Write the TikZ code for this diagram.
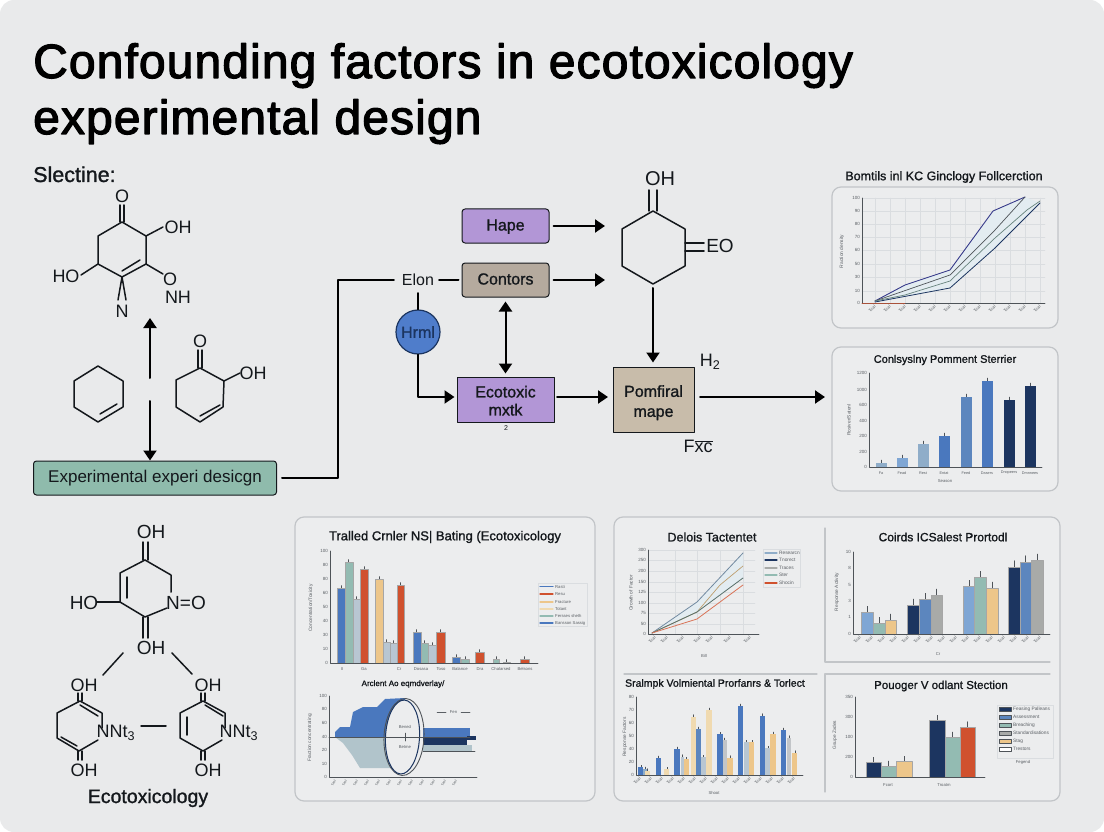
\documentclass[tikz,border=0pt]{standalone}
\usepackage{fontspec}
\usetikzlibrary{arrows.meta}
\setmainfont{Liberation Sans}
\newfontfamily\medfont[FakeBold=2.5,LetterSpace=2.3]{Liberation Sans}
\newfontfamily\semifont[FakeBold=1.2]{Liberation Sans}

\definecolor{pagegrey}{HTML}{E9EAEB}
\definecolor{panelfill}{HTML}{ECEDEE}
\definecolor{panelline}{HTML}{C2C5C8}
\definecolor{inkdark}{HTML}{14181C}
\definecolor{axisgrey}{HTML}{4E5358}
\definecolor{gridgrey}{HTML}{DADDE0}
\definecolor{tickgrey}{HTML}{5A5F64}
\definecolor{violetbox}{HTML}{B296D6}
\definecolor{stonebox}{HTML}{B5AA9E}
\definecolor{sandbox}{HTML}{C8BCAA}
\definecolor{mintbox}{HTML}{8FBBAC}
\definecolor{hrmlblue}{HTML}{4F7DCB}
\definecolor{navybar}{HTML}{1C3560}
\definecolor{steelbar}{HTML}{4A78BE}
\definecolor{midbar}{HTML}{5C86BE}
\definecolor{skybar}{HTML}{7FA6D4}
\definecolor{dustbar}{HTML}{8FADC9}
\definecolor{tealbar}{HTML}{93BBB2}
\definecolor{greybar}{HTML}{B8C6D2}
\definecolor{ashbar}{HTML}{A8AAA8}
\definecolor{redbar}{HTML}{D0512E}
\definecolor{tanbar}{HTML}{EDC68A}
\definecolor{creambar}{HTML}{F0DAB0}
\definecolor{paleblue}{HTML}{E3ECF1}

\tikzset{
    bond/.style={line width=1.5pt, line join=round, line cap=round, color=inkdark},
    atom/.style={font=\fontsize{18}{20}\selectfont, text=inkdark, inner sep=0pt},
    flow/.style={line width=2pt, color=black, -{Triangle[length=10pt,width=13pt]}},
    bothflow/.style={line width=2pt, color=black, {Triangle[length=10pt,width=13pt]}-{Triangle[length=10pt,width=13pt]}},
    plainflow/.style={line width=2pt, color=black},
    flowbox/.style={draw=inkdark, line width=1pt, minimum width=87pt, minimum height=34pt, rounded corners=3pt, inner sep=0pt, font=\semifont\fontsize{16}{18}\selectfont, text=inkdark, align=center},
    oneline/.style={text height=12pt, text depth=3pt},
    panel/.style={draw=panelline, line width=1.2pt, rounded corners=9pt, fill=panelfill},
    rule/.style={draw=panelline, line width=1.1pt},
    charttitle/.style={font=\semifont\fontsize{12.5}{14}\selectfont, text=inkdark, inner sep=0pt},
    axis/.style={line width=0.9pt, color=axisgrey},
    gridline/.style={line width=0.4pt, color=gridgrey},
    xtick/.style={font=\fontsize{4.2}{5}\selectfont, text=tickgrey, rotate=45, anchor=east, inner sep=0pt},
    xflat/.style={font=\fontsize{4.2}{5}\selectfont, text=tickgrey, inner sep=0pt},
    ytick/.style={font=\fontsize{4.5}{5}\selectfont, text=tickgrey, anchor=east, inner sep=0pt},
    ytitle/.style={font=\fontsize{4.8}{5}\selectfont, text=tickgrey, rotate=90, inner sep=0pt},
    legendtext/.style={font=\fontsize{4.8}{5}\selectfont, text=tickgrey, anchor=west, inner sep=0pt},
    legendbox/.style={draw=gridgrey, line width=0.5pt, fill=panelfill},
    barline/.style={draw=black!35, line width=0.3pt},
    errbar/.style={line width=0.5pt, color=axisgrey},
}

\begin{document}
\begin{tikzpicture}[x=1pt, y=-1pt, line cap=round, line join=round]
    \useasboundingbox (0,0) rectangle (1104,832);
    \fill[white] (0,0) rectangle (1104,832);
    \fill[pagegrey, rounded corners=14pt] (0,0) rectangle (1104,832);

    \draw (33,78) node[anchor=base west, inner sep=0pt, font=\medfont\fontsize{48}{50}\selectfont, text=black] (titleone) {Confounding factors in ecotoxicology};
    \draw (33,134) node[anchor=base west, inner sep=0pt, font=\medfont\fontsize{48}{50}\selectfont, text=black] (titletwo) {experimental design};
    \draw (33,182) node[anchor=base west, inner sep=0pt, font=\semifont\fontsize{21.5}{23}\selectfont, text=inkdark] (slectine) {Slectine:};

    % upper molecule
    \draw[bond] (122,222) -- (146,236) -- (146,264) -- (122,277) -- (98,264) -- (98,236) -- cycle;
    \draw[bond] (120,205) -- (120,222);
    \draw[bond] (124,205) -- (124,222);
    \draw[bond] (140,260) -- (122,271);
    \draw[bond] (146,236) -- (163,227);
    \draw[bond] (98,264) -- (81,275);
    \draw[bond] (146,264) -- (163,274);
    \draw[bond] (122,277) -- (118,300);
    \draw[bond] (122,277) -- (126,300);
    \draw (122,196) node[atom] (atomoa) {O};
    \draw (178,227) node[atom] (atomob) {OH};
    \draw (66,276) node[atom] (atomoc) {HO};
    \draw (170,279) node[atom] (atomod) {O};
    \draw (178,297) node[atom] (atomne) {NH};
    \draw (122,311) node[atom] (atomnf) {N};

    % plain ring and ketone ring
    \draw[bond] (98,366) -- (123,381) -- (123,407) -- (98,422) -- (74,407) -- (74,381) -- cycle;
    \draw[bond] (100,414) -- (117,404);
    \draw[bond] (200,368) -- (224,381) -- (223,407) -- (200,422) -- (176,407) -- (176,380) -- cycle;
    \draw[bond] (198,350) -- (198,368);
    \draw[bond] (202,350) -- (202,368);
    \draw[bond] (200,416) -- (220,405);
    \draw[bond] (224,381) -- (240,373);
    \draw (200,341) node[atom] (atomka) {O};
    \draw (253,373) node[atom] (atomkb) {OH};

    \draw (155,478) node[flowbox, fill=mintbox, minimum width=243pt, font=\fontsize{17}{19}\selectfont] (expbox) {Experimental experi desicgn};
    \coordinate (gapup) at (150,378);
    \coordinate (tipup) at (150,318);
    \coordinate (gapdown) at (150,401);
    \draw[flow] (gapup) -- (tipup);
    \draw[flow] (gapdown) -- (expbox.north -| gapdown);

    % flow chart
    \draw (505.5,226) node[flowbox, oneline, fill=violetbox] (hape) {Hape};
    \draw (505.5,280) node[flowbox, oneline, fill=stonebox] (contors) {Contors};
    \draw (418,280) node[inner sep=0pt, minimum width=40pt, minimum height=16pt, font=\fontsize{16}{18}\selectfont, text=inkdark] (elon) {Elon};
    \draw (418,332) node[circle, draw=navybar, line width=1.2pt, fill=hrmlblue, minimum size=44pt, inner sep=0pt, font=\semifont\fontsize{16}{18}\selectfont, text=navybar] (hrml) {Hrml};
    \draw (505.5,399.5) node[flowbox, fill=violetbox, minimum width=97pt, minimum height=45pt, rounded corners=0pt] (ecotoxic) {\rule{0pt}{14pt}Ecotoxic\\[0pt]mxtk};
    \draw (506,428) node[inner sep=0pt, font=\fontsize{7}{8}\selectfont, text=inkdark] (ecomark) {2};
    \draw (653.5,399.5) node[flowbox, fill=sandbox, minimum width=81pt, minimum height=65pt, rounded corners=0pt] (pomfiral) {\rule{0pt}{18pt}Pomfiral\\[2pt]mape};
    \draw (710,362) node[atom] (htwo) {H\textsubscript{2}};
    \draw (698,446) node[atom] (fxc) {F$\overline{\mbox{xc}}$};

    \coordinate (ringtop) at (605,226);
    \coordinate (ringmid) at (605,280);
    \coordinate (ringlow) at (653,284);
    \coordinate (outtip) at (825,397);
    \coordinate (outstart) at (700,397);
    \coordinate (upbend) at (338,478);
    \coordinate (upcorner) at (338,280);
    \coordinate (hrmlbend) at (418,397);
    \coordinate (ecostart) at (557,397);
    \coordinate (ecoin) at (608,397);

    \draw[flow, shorten <=4pt] (hape.east) -- (ringtop);
    \draw[flow, shorten <=4pt] (contors.east) -- (ringmid);
    \draw[plainflow, shorten <=5pt, shorten >=4pt] (expbox.east) -- (upbend) -- (upcorner) -- (elon.west);
    \draw[plainflow, shorten <=1pt, shorten >=3pt] (elon.east) -- (contors.west);
    \draw[plainflow, shorten <=5pt] (elon.south) -- (hrml.north);
    \draw[flow, shorten >=2pt] (hrml.south) -- (hrmlbend) -- (ecotoxic.west |- hrmlbend);
    \draw[bothflow, shorten <=4pt, shorten >=3pt] (contors.south) -- (contors.south |- ecotoxic.north);
    \draw[flow] (ecostart) -- (ecoin);
    \draw[flow, shorten <=4pt, shorten >=4pt] (ringlow) -- (ringlow |- pomfiral.north);
    \draw[flow] (outstart) -- (outtip);

    \draw[bond] (653,211) -- (685,229) -- (685,266) -- (653,284) -- (622,266) -- (622,229) -- cycle;
    \draw[bond] (649,190) -- (649,211);
    \draw[bond] (657,190) -- (657,211);
    \draw[bond] (685,243) -- (704,243);
    \draw[bond] (685,251) -- (704,251);
    \draw (660,179) node[atom, font=\fontsize{20}{22}\selectfont] (atomqa) {OH};
    \draw (720,246) node[atom, font=\fontsize{19}{21}\selectfont] (atomqb) {EO};

    % lower molecules
    \draw[bond] (145,560) -- (171,575) -- (171,592);
    \draw[bond] (167,608) -- (145,617) -- (120,602) -- (120,573) -- (145,560);
    \draw[bond] (127,577) -- (127,598);
    \draw[bond] (143,542) -- (143,560);
    \draw[bond] (148,542) -- (148,560);
    \draw[bond] (143,617) -- (143,638);
    \draw[bond] (148,617) -- (148,638);
    \draw[bond, line width=2.2pt] (97,602) -- (120,602);
    \draw (151,532) node[atom, font=\fontsize{19}{21}\selectfont] (atomra) {OH};
    \draw (84,603) node[atom, font=\fontsize{19}{21}\selectfont] (atomrb) {HO};
    \draw (186,603) node[atom, font=\fontsize{19}{21}\selectfont] (atomrc) {N=O};
    \draw (151,648) node[atom, font=\fontsize{19}{21}\selectfont] (atomrd) {OH};

    \draw[bond] (123,653) -- (103,675);
    \draw[bond] (172,653) -- (192,674);
    \draw[bond] (141,726) -- (166,726);

    \draw[bond] (98,740) -- (79,751) -- (57,738) -- (57,713) -- (80,701) -- (102,713) -- (102,728);
    \draw[bond] (80,705) -- (98,716);
    \draw[bond] (61,737) -- (77,746);
    \draw[bond] (78,693) -- (78,701);
    \draw[bond] (82,693) -- (82,701);
    \draw[bond] (78,751) -- (78,760);
    \draw[bond] (82,751) -- (82,760);
    \draw (84,685) node[atom] (atomsa) {OH};
    \draw (116,733) node[atom] (atomsb) {NNt\textsubscript{3}};
    \draw (84,770) node[atom] (atomsc) {OH};

    \draw[bond] (222,740) -- (203,751) -- (180,738) -- (180,713) -- (203,701) -- (225,713) -- (225,728);
    \draw[bond] (205,705) -- (223,716);
    \draw[bond] (187,717) -- (187,735);
    \draw[bond] (201,693) -- (201,701);
    \draw[bond] (205,693) -- (205,701);
    \draw[bond] (201,751) -- (201,760);
    \draw[bond] (205,751) -- (205,760);
    \draw (208,685) node[atom] (atomta) {OH};
    \draw (239,733) node[atom] (atomtb) {NNt\textsubscript{3}};
    \draw (208,770) node[atom] (atomtc) {OH};
    \draw (148,798) node[inner sep=0pt, font=\semifont\fontsize{19.5}{21}\selectfont, text=inkdark] (ecolabel) {Ecotoxicology};

    % top right panels
    \draw (944,177) node[charttitle] (titlea) {Bomtils inl KC Ginclogy Follcerction};
    \draw[panel] (832,187) rectangle (1058,328);
    \foreach \xg in {875,890,...,1040} \draw[gridline] (\xg,198) -- (\xg,303);
    \foreach \yg in {198,211,224,237,250,264,277,291} \draw[gridline] (862,\yg) -- (1045,\yg);
    \fill[paleblue] (875,301) -- (905,285) -- (950,270) -- (993,211) -- (1025,197) -- (1040,203) -- (995,248) -- (950,288) -- (875,302) -- cycle;
    \draw[line width=0.9pt, color=axisgrey!70!blue] (875,301) -- (905,285) -- (950,270) -- (993,211) -- (1025,197);
    \draw[line width=0.7pt, color=axisgrey] (875,301) -- (950,275) -- (995,230) -- (1025,197);
    \draw[line width=0.7pt, color=tealbar!70!black] (875,301) -- (905,295) -- (950,281) -- (995,238) -- (1027,210) -- (1040,201);
    \draw[line width=0.8pt, color=navybar] (875,302) -- (950,288) -- (995,248) -- (1040,203);
    \draw[axis] (862,198) -- (862,303) -- (1045,303);
    \draw[line width=0.9pt, color=redbar!70!axisgrey] (862,303) -- (905,303);
    \foreach \yt/\lab in {198/100,211/90,224/80,237/70,250/60,264/50,277/30,291/10,303/0} \draw (860,\yt) node[ytick] (yta\yt) {\lab};
    \foreach \xt in {875,890,...,1040} \draw (\xt,306) node[xtick] (xta\xt) {Trial};
    \draw (842,252) node[ytitle] (ylaba) {Fraction density};

    \draw[panel] (832,347) rectangle (1058,491);
    \draw (945,360) node[charttitle, font=\semifont\fontsize{11}{13}\selectfont] (titleb) {Conlsyslny Pomment Sterrier};
    \foreach \xa/\ytop/\barcol in {881/463/dustbar,902/458/skybar,923/444/dustbar,944/436/steelbar,966/397/midbar,987/381/steelbar,1009/400/navybar,1030/386/navybar} {
        \draw[errbar] (\xa,\ytop) -- ++(0,-3);
        \fill[\barcol] (\xa-5.5,467) rectangle (\xa+5.5,\ytop);
    }
    \draw[axis] (869,373) -- (869,467) -- (1042,467);
    \foreach \yt/\lab in {373/1200,390/1000,405/600,421/400,436/200,452/200,467/0} \draw (867,\yt) node[ytick] (ytb\yt) {\lab};
    \foreach \xa/\lab in {881/Fa,902/Fead,923/Rest,944/Entat,966/Feed,987/Dasers,1009/Dnopeers,1030/Dmnnees} \draw (\xa,473) node[xflat, font=\fontsize{3.8}{5}\selectfont] (xtb\xa) {\lab};
    \draw (945,481) node[xflat] (xlabb) {Season};
    \draw (849,420) node[ytitle] (ylabb) {Rosiver/Satenl};

    % middle panel
    \draw[panel] (295,517) rectangle (595,801);
    \draw (445,537) node[charttitle, font=\semifont\fontsize{13}{15}\selectfont] (titlec) {Tralled Crnler NS| Bating (Ecotoxicology};
    \foreach \xa/\xb/\ytop/\barcol in {337.3/344.7/588/steelbar,344.7/352.7/562/tealbar,352.7/360/599/greybar,360/368/569/redbar,375.3/383.3/579/tanbar,383.3/390/642/greybar,390/396.7/643/greybar,396.7/404.3/585/redbar,412.7/420.7/632/steelbar,420.7/428.3/643/tealbar,428.3/435.7/645/greybar,436/444.7/632/redbar,452.3/460/657/steelbar,460.7/469.3/659/tealbar,475.3/483.7/652/redbar,493.3/499.3/659/tealbar,503.3/510/662/tanbar,520/529.3/659/redbar} {
        \draw[errbar] ({(\xa+\xb)/2},\ytop) -- ++(0,-2.5);
        \draw[barline, fill=\barcol] (\xa,663) rectangle (\xb,\ytop);
    }
    \draw[axis] (330,551) -- (330,663) -- (538,663);
    \foreach \yt/\lab in {551/100,565/80,579/80,593/60,607/50,621/40,635/30,649/10,663/0} \draw (328,\yt) node[ytick] (ytc\yt) {\lab};
    \foreach \xa/\lab in {342/II,364/Ga,399/Cr,421/Dosasa,441/Toso,460/Balance,480/Dra,501/Chalarsed,525/Belsons} \draw (\xa,669) node[xflat] (xtc\xa) {\lab};
    \draw (311,608) node[ytitle] (ylabc) {Concentration/Toxicity};
    \draw[legendbox] (538,583) rectangle (587,626);
    \foreach \yt/\barcol/\lab in {586.5/steelbar/Rasti,594/redbar/Resu,602/tanbar/Fracture,609/creambar/Totant,616/tealbar/Fersses sheth,623/steelbar/Bansson Sassig} {
        \draw[line width=1.2pt, color=\barcol] (540,\yt) -- (553,\yt);
        \draw (555,\yt) node[legendtext, font=\fontsize{4.2}{5}\selectfont] (legc\yt) {\lab};
    }

    \draw (403,684) node[charttitle, font=\semifont\fontsize{8}{10}\selectfont] (titled) {Arclent Ao eqmdverlay/};
    \fill[steelbar] (335,737) -- (335,732) -- (340,727) -- (350,727) -- (353,712) -- (363,707) -- (377,707) -- (385,699) -- (405,698) -- (405,737) -- cycle;
    \fill[greybar!80!tealbar] (335,737) -- (343,743) -- (352,755) -- (360,768) -- (405,768) -- (405,737) -- cycle;
    \fill[steelbar] (423,728) rectangle (470,737);
    \fill[navybar] (423,737) rectangle (467,745);
    \fill[navybar] (467,736) rectangle (476,740);
    \fill[greybar!80!tealbar] (423,745) rectangle (472,751);
    \draw[line width=0.7pt, color=axisgrey] (423,751) -- (475,751);
    \draw[rotate around={-3:(404,737)}, line width=0.9pt, color=axisgrey] (404,737) ellipse (20 and 38.5);
    \draw[rotate around={-3:(402.5,737)}, line width=1pt, color=navybar, fill=panelfill] (402.5,737) ellipse (17 and 37);
    \draw[axis] (329,696) -- (329,777) -- (477,777);
    \draw[line width=0.7pt, color=axisgrey] (329,737) -- (470,737);
    \draw[line width=0.5pt, color=axisgrey] (405,733) -- (405,741);
    \draw (405,727) node[xflat] (benda) {Bened};
    \draw (405,747) node[xflat] (bendb) {Betme};
    \draw[line width=0.5pt, color=tickgrey] (437,712) -- (446,712);
    \draw[line width=0.5pt, color=tickgrey] (461,712) -- (470,712);
    \draw (453.5,712) node[xflat] (legd) {Fen};
    \foreach \yt/\lab in {696/100,709/80,723/60,737/40,750/20,764/10,777/0} \draw (327,\yt) node[ytick] (ytd\yt) {\lab};
    \foreach \xt in {335,346,...,465} \draw (\xt,780) node[xtick, font=\fontsize{3.5}{4}\selectfont, rotate=20] (xtd\xt) {Test};
    \draw (310,738) node[ytitle] (ylabd) {Fraction concentrating};

    % right panel
    \draw[panel] (614,517) rectangle (1060,801);
    \draw[rule] (825,528) -- (825,662) -- (1050,662);
    \draw[rule] (624,674) -- (817,674);
    \draw[rule] (1050,674) -- (825,674) -- (825,792);

    \draw (712,537) node[charttitle] (titlee) {Delois Tactentet};
    \foreach \xg in {675,697,720,743} \draw[gridline] (\xg,550) -- (\xg,634);
    \foreach \yg in {550,560,571,582,592,603,613,624} \draw[gridline] (648,\yg) -- (755,\yg);
    \fill[paleblue] (652,633) -- (697,602) -- (743,553) -- (743,578) -- (697,612) -- cycle;
    \draw[line width=0.8pt, color=dustbar!80!black] (652,633) -- (697,602) -- (743,553);
    \draw[line width=0.7pt, color=tanbar!80!black] (652,633) -- (697,612) -- (720,585) -- (743,566);
    \draw[line width=0.8pt, color=tealbar!60!black] (652,633) -- (697,612) -- (743,578);
    \draw[line width=0.8pt, color=redbar!80!white] (652,633) -- (697,619) -- (743,585);
    \draw[axis] (648,550) -- (648,634) -- (759,634);
    \foreach \yt/\lab in {550/300,560/250,571/200,582/150,592/125,603/100,613/75,624/50,634/0} \draw (646,\yt) node[ytick] (yte\yt) {\lab};
    \foreach \xt in {655,667,683,700,712,730,750} \draw (\xt,637) node[xtick] (xte\xt) {Trial};
    \draw (704,656) node[xflat] (xlabe) {Bill};
    \draw (631,593) node[ytitle] (ylabe) {Growth of Factor};
    \draw[legendbox] (763,549) rectangle (800,587);
    \foreach \yt/\barcol/\lab in {553/dustbar/Researcn,560/navybar/Tnorect,568/ashbar/Traces,575/tealbar/Ster,583/redbar/Shocin} {
        \draw[line width=1.1pt, color=\barcol] (765,\yt) -- (777,\yt);
        \draw (779,\yt) node[legendtext] (lege\yt) {\lab};
    }

    \draw (943,537) node[charttitle, font=\semifont\fontsize{12}{14}\selectfont] (titlef) {Coirds ICSalest Prortodl};
    \foreach \xa/\xb/\ytop/\barcol in {861.3/873.3/612.3/skybar,873.3/885/623.3/tealbar,885/895.7/620/tanbar,907.3/919/605/navybar,919/930.7/599.3/midbar,930.7/942/595/ashbar,963.3/974.3/586.3/skybar,974.3/986/577.3/tealbar,986/997.7/588/tanbar,1008/1019.7/566.7/navybar,1019.7/1031/561.7/midbar,1031/1042.7/560/ashbar} {
        \draw[errbar] ({(\xa+\xb)/2},\ytop) -- ++(0,-6);
        \draw[barline, fill=\barcol] (\xa,634) rectangle (\xb,\ytop);
    }
    \draw[axis] (853,552) -- (853,634) -- (1050,634);
    \foreach \yt/\lab in {552/10,568/8,585/5,601/3,617/1,634/0} \draw (851,\yt) node[ytick] (ytf\yt) {\lab};
    \foreach \xt in {860,872,...,1040} \draw (\xt,637) node[xtick] (xtf\xt) {Trial};
    \draw (938,654) node[xflat] (xlabf) {Cr};
    \draw (837,592) node[ytitle] (ylabf) {Response Activity};

    \draw (715,684) node[charttitle, font=\semifont\fontsize{10.5}{12}\selectfont] (titleg) {Sralmpk Volmiental Prorfanrs \& Torlect};
    \foreach \xa/\xb/\ytop/\barcol in {638.3/643.3/767.3/steelbar,643.3/646.7/769/dustbar,645/650/770.7/creambar,655.7/661.3/758/steelbar,664.3/669.3/769.3/creambar,674.3/680/749/steelbar,680.7/684/756.7/greybar,684/689/759.3/tanbar,691/695.7/716.7/creambar,695.7/701/729/midbar,701/706/757.3/greybar,706/711.7/710/creambar,717/722.7/734.3/steelbar,722.7/726.7/740/panelline,727.3/732.7/757.7/tanbar,738/743.3/706/steelbar,744/749.3/742.3/greybar,749.3/754.3/742.3/tanbar,760/765.3/715.7/steelbar,765.3/770.3/748.3/greybar,770.3/775.7/734/tanbar,781/786.3/730/steelbar,786.7/791.3/737.7/panelline,792.3/797.3/752.7/tanbar} {
        \draw[errbar] ({(\xa+\xb)/2},\ytop) -- ++(0,-2);
        \fill[\barcol] (\xa,775) rectangle (\xb,\ytop);
    }
    \draw[axis] (636,697) -- (636,775) -- (803,775);
    \foreach \yt/\lab in {697/80,710/70,723/60,736/50,749/40,762/20,775/0} \draw (634,\yt) node[ytick] (ytg\yt) {\lab};
    \foreach \xt in {640,651,...,800} \draw (\xt,778) node[xtick] (xtg\xt) {Trial};
    \draw (714,793) node[xflat] (xlabg) {Shoot};
    \draw (625,737) node[ytitle] (ylabg) {Response Factors};

    \draw (941,686) node[charttitle, font=\semifont\fontsize{11.5}{13}\selectfont] (titleh) {Pouoger V odlant Stection};
    \foreach \xa/\xb/\ytop/\barcol in {866/881/762.3/navybar,881/896/766/tealbar,896/911.7/761.3/tanbar,929.3/944.7/720.3/navybar,944.7/960/737/tealbar,960/975.3/726.7/redbar} {
        \draw[errbar] ({(\xa+\xb)/2},\ytop) -- ++(0,-5);
        \draw[barline, fill=\barcol] (\xa,777) rectangle (\xb,\ytop);
    }
    \draw[axis] (855,697) -- (855,777) -- (985,777);
    \foreach \yt/\lab in {697/350,717/300,737/100,757/200,777/0} \draw (853,\yt) node[ytick] (yth\yt) {\lab};
    \draw (888,785) node[xflat] (xtha) {Fcort};
    \draw (944,785) node[xflat] (xthb) {Troatm};
    \draw (835,735) node[ytitle] (ylabh) {Gsupe Zxdes};
    \draw[legendbox] (997,705) rectangle (1053,758);
    \foreach \yt/\barcol/\lab in {709/navybar/Feasing Palleans,717/midbar/Assessment,725/tealbar/Breaching,733/ashbar/Standardisations,741/tanbar/Stag,749/white/Trestors} {
        \draw[draw=axisgrey, line width=0.4pt, fill=\barcol] (999,\yt-2) rectangle (1011,\yt+2);
        \draw (1013,\yt) node[legendtext] (legh\yt) {\lab};
    }
    \draw (1023,762) node[xflat] (legfoot) {Fegend};
%    \draw[dashed] (997,705) -- (1053,758);
\end{tikzpicture}
\end{document}
